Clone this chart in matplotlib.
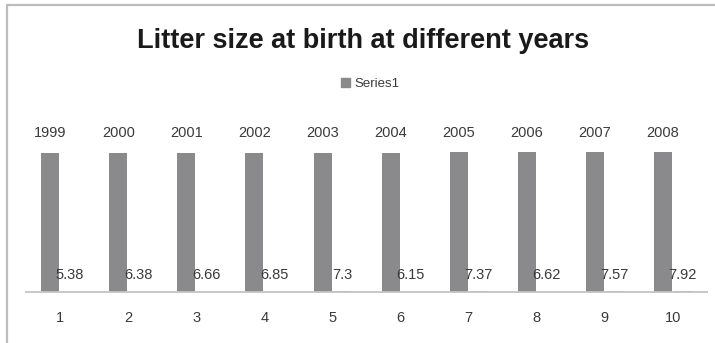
import matplotlib
matplotlib.use("Agg")
import matplotlib.pyplot as plt
from matplotlib.patches import Rectangle, Patch
import numpy as np

# chart data
categories = ["1", "2", "3", "4", "5", "6", "7", "8", "9", "10"]
years = [1999, 2000, 2001, 2002, 2003, 2004, 2005, 2006, 2007, 2008]
litter_size = [5.38, 6.38, 6.66, 6.85, 7.3, 6.15, 7.37, 6.62, 7.57, 7.92]

bar_color = "#8a8a8c"
text_color = "#3a3a3a"
font = "Liberation Sans"

fig = plt.figure(figsize=(7.15, 3.43), dpi=100)
W, H = 715.0, 343.0

# outer chart frame (only left/top visible in the picture)
fig.patches.append(Rectangle((7 / W, -0.05), 1.2, (343 - 5) / H + 0.05,
                             transform=fig.transFigure, fill=False,
                             edgecolor="#bdbdbd", linewidth=1.6))

ax = fig.add_axes([26 / W, 51 / H, 681 / W, 174 / H])
x = np.arange(len(categories))
bw = 0.265
off = 0.145
ax.bar(x - off, years, width=bw, color=bar_color)
ax.bar(x + off, litter_size, width=bw, color=bar_color)

for xi, v in zip(x, years):
    ax.annotate(str(v), (xi - off, v), xytext=(0, 14), textcoords="offset points",
                ha="center", va="center", fontsize=10.5, color=text_color, family=font)
for xi, v in zip(x, litter_size):
    ax.annotate(f"{v:g}", (xi + off, v), xytext=(0, 12), textcoords="offset points",
                ha="center", va="center", fontsize=10.5, color=text_color, family=font)

ax.set_xlim(-0.5, len(categories) - 0.5)
ax.set_ylim(0, 2500)
ax.set_xticks(x)
ax.set_xticklabels(categories, fontsize=10.5, color=text_color, family=font)
ax.tick_params(axis="x", length=0, pad=14)
ax.set_yticks([])
for s in ["top", "right", "left"]:
    ax.spines[s].set_visible(False)
ax.spines["bottom"].set_color("#c4c4c4")
ax.spines["bottom"].set_linewidth(1.3)
ax.patch.set_alpha(0)

fig.text(363 / W, 1 - 41 / H, "Litter size at birth at different years",
         ha="center", va="center", fontsize=19.5, fontweight="bold",
         color="#1a1a1a", family=font)

fig.legend(handles=[Patch(color=bar_color, label="Series1")],
           loc="center", bbox_to_anchor=(370 / W, 1 - 84 / H), frameon=False,
           handlelength=0.7, handleheight=0.7, handletextpad=0.3,
           prop={"family": font, "size": 9.5}, labelcolor=text_color)

fig.savefig("out.png", dpi=100, facecolor="white")
